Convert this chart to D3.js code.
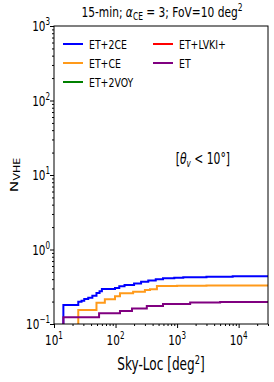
<!DOCTYPE html>
<head>
<meta charset="utf-8">
<style>
    body { margin: 0; background: #fff; }
    text { font-family: "DejaVu Sans", sans-serif; fill: #000; }
    .line { fill: none; stroke-width: 2px; }
</style>
<title>N_VHE vs Sky-Loc</title>
</head>
<body>
<script src="https://d3js.org/d3.v7.min.js"></script>
<script>
    // sky-localisation area [deg^2] and cumulative N_VHE
    const skyBlue   = [13.9, 14.2, 24.8, 28, 31, 36, 42, 49, 55, 60, 98, 115, 140, 200, 260, 340, 450, 590, 900, 1260, 3000, 8000, 30000];
    const nET2CE    = [0.05, 0.180, 0.199, 0.205, 0.217, 0.225, 0.240, 0.261, 0.275, 0.295, 0.305, 0.320, 0.334, 0.350, 0.370, 0.385, 0.400, 0.410, 0.418, 0.423, 0.432, 0.438, 0.441];
    const skyOrange = [24.5, 24.8, 49, 67, 98, 118, 193, 300, 363, 470, 1000, 3000, 30000];
    const nETCE     = [0.05, 0.154, 0.193, 0.215, 0.235, 0.258, 0.272, 0.285, 0.293, 0.324, 0.327, 0.329, 0.331];
    const skyPurple = [13.9, 14.2, 54, 118, 185, 322, 590, 1630, 5000, 30000];
    const nET       = [0.05, 0.123, 0.139, 0.150, 0.162, 0.174, 0.185, 0.194, 0.198, 0.200];
    // the two remaining networks stay below the plotted range
    const skyOther  = [13.9, 30000];
    const nET2VOY   = [0.05, 0.05];
    const nETLVK    = [0.05, 0.05];

    const xTicks = [1, 2, 3, 4];
    const yTicks = [-1, 0, 1, 2, 3];
    const legendNames = ['ET+2CE', 'ET+CE', 'ET+2VOY', 'ET+LVKI+', 'ET'];

    const series = [
        { name: 'ET+2VOY', color: 'green', x: skyOther, y: nET2VOY },
        { name: 'ET+LVKI+', color: 'red', x: skyOther, y: nETLVK },
        { name: 'ET+2CE', color: 'blue', x: skyBlue, y: nET2CE },
        { name: 'ET+CE', color: '#ff9a1a', x: skyOrange, y: nETCE },
        { name: 'ET', color: 'purple', x: skyPurple, y: nET },
    ];

    const W = 274, H = 382;
    const margin = { top: 26, right: 6, bottom: 58, left: 54 };
    const width = W - margin.left - margin.right;
    const height = H - margin.top - margin.bottom;
    const SX = 0.72; // the picture's text is narrow

    const x = d3.scaleLog().domain([10, 30000]).range([0, width]);
    const y = d3.scaleLog().domain([0.1, 1000]).range([height, 0]);

    const svg = d3.select('body').append('svg')
        .attr('width', W).attr('height', H);

    // text helper: squeeze horizontally about the anchor point
    function label(parent, px, py, size, anchor) {
        return parent.append('g')
            .attr('transform', `translate(${px},${py}) scale(${SX},1)`)
            .append('text')
            .attr('font-size', size + 'px')
            .style('text-anchor', anchor);
    }

    svg.append('defs').append('clipPath').attr('id', 'clip')
        .append('rect').attr('width', width).attr('height', height);

    const group = svg.append('g')
        .attr('transform', `translate(${margin.left},${margin.top})`);

    // lines
    const line = d3.line()
        .x(d => x(d[0]))
        .y(d => y(d[1]))
        .curve(d3.curveStepAfter);

    group.append('g').attr('clip-path', 'url(#clip)')
        .selectAll('path').data(series).join('path')
        .attr('class', 'line')
        .attr('stroke', d => d.color)
        .attr('d', d => line(d.x.map((v, i) => [v, d.y[i]])));

    // axes (ticks only, labels drawn by hand for superscripts)
    const xMinor = [];
    for (let e = 1; e <= 4; e++) for (let m = 1; m < 10; m++) {
        const v = m * Math.pow(10, e);
        if (v <= 30000) xMinor.push(v);
    }
    const yMinor = [];
    for (let e = -1; e < 3; e++) for (let m = 1; m < 10; m++) yMinor.push(m * Math.pow(10, e));
    yMinor.push(1000);

    const gx = group.append('g').attr('transform', `translate(0,${height})`);
    gx.call(d3.axisBottom(x).tickValues(xMinor).tickSize(2).tickFormat(''));
    gx.call(g => g.selectAll('.tick line').attr('y2', d => Number.isInteger(Math.log10(d)) ? 4 : 2));
    const gy = group.append('g');
    gy.call(d3.axisLeft(y).tickValues(yMinor).tickSize(2).tickFormat(''));
    gy.call(g => g.selectAll('.tick line').attr('x2', d => Math.abs(Math.log10(d) - Math.round(Math.log10(d))) < 1e-9 ? -4 : -2));
    group.selectAll('.domain').remove();

    group.append('rect')
        .attr('width', width).attr('height', height)
        .attr('fill', 'none').attr('stroke', '#000').attr('stroke-width', 1);

    xTicks.forEach(e => {
        const t = label(group, x(Math.pow(10, e)), height + 21, 14.5, 'middle');
        t.append('tspan').text('10');
        t.append('tspan').attr('dy', -6).attr('font-size', '10px').text(e < 0 ? '\u2212' + (-e) : e);
    });
    yTicks.forEach(e => {
        const t = label(group, -4, y(Math.pow(10, e)) + 5, 14.5, 'end');
        t.append('tspan').text('10');
        t.append('tspan').attr('dy', -6).attr('font-size', '10px').text(e < 0 ? '\u2212' + (-e) : e);
    });

    // title
    const title = label(svg, margin.left + width / 2 + 1, 17, 14.8, 'middle');
    title.append('tspan').text('15-min; ');
    title.append('tspan').attr('font-style', 'italic').text('\u03b1');
    title.append('tspan').attr('dy', 3).attr('font-size', '10.5px').text('CE');
    title.append('tspan').attr('dy', -3).text(' = 3; FoV=10 deg');
    title.append('tspan').attr('dy', -6).attr('font-size', '10.5px').text('2');

    // axis labels
    const xl = label(svg, margin.left + width / 2, 370, 16.8, 'middle');
    xl.append('tspan').text('Sky-Loc [deg');
    xl.append('tspan').attr('dy', -6).attr('font-size', '11.5px').text('2');
    xl.append('tspan').attr('dy', 6).text(']');

    const yl = svg.append('g')
        .attr('transform', `translate(18,${margin.top + height / 2}) rotate(-90) scale(1,${SX})`)
        .append('text').attr('font-size', '15.5px').style('text-anchor', 'middle');
    yl.append('tspan').text('N');
    yl.append('tspan').attr('dy', 3).attr('font-size', '11px').text('VHE');

    // annotation
    const ann = label(group, x(Math.pow(10, 3.42)), y(Math.pow(10, 1.15)), 15, 'middle');
    ann.append('tspan').text('[');
    ann.append('tspan').attr('font-style', 'italic').text('\u03b8');
    ann.append('tspan').attr('dy', 3).attr('font-size', '10px').attr('font-style', 'italic').text('v');
    ann.append('tspan').attr('dy', -3).text(' < 10\u00b0]');

    // legend, two columns
    const legendPos = [[0, 0], [0, 1], [0, 2], [1, 0], [1, 1]];
    legendNames.forEach((n, i) => {
        const s = series.find(d => d.name === n);
        const lx = 9 + legendPos[i][0] * 90;
        const ly = 18 + legendPos[i][1] * 19;
        group.append('line')
            .attr('x1', lx).attr('x2', lx + 20)
            .attr('y1', ly).attr('y2', ly)
            .attr('stroke', s.color).attr('stroke-width', 2);
        label(group, lx + 26, ly + 5, 13, 'start').text(n);
    });
</script>
</body>
